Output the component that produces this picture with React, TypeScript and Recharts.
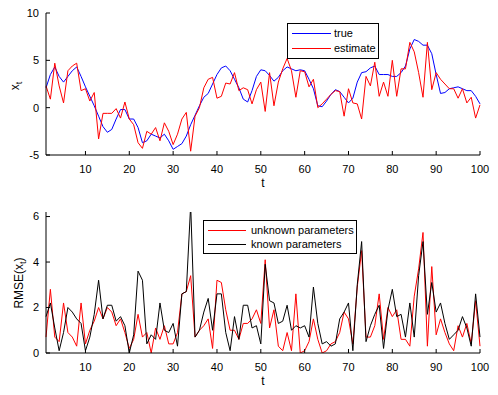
import { LineChart, Line, XAxis, YAxis, Legend } from "recharts";

// time index 1..100
const steps = Array.from({ length: 100 }, (_, i) => i + 1);

const trueState = [
  2.1, 3.5, 4.3, 3.3, 2.7, 3.3, 3.9, 4.3, 3.3, 2.2,
  1.2, 0.2, -0.9, -2.0, -2.6, -2.3, -1.2, -0.2, -0.2, -1.2,
  -1.2, -2.1, -3.7, -3.5, -2.8, -3.0, -3.2, -2.8, -3.5, -4.4,
  -4.1, -3.8, -3.0, -1.8, -0.8, 0.2, 1.1, 1.5, 2.5, 3.5,
  4.2, 4.4, 3.9, 3.0, 2.1, 0.9, 0.6, 1.8, 3.3, 4.0,
  3.9, 3.4, 2.8, 3.2, 3.9, 4.3, 4.1, 3.9, 4.0, 3.9,
  3.0, 2.0, 0.2, 0.1, 0.7, 1.4, 1.9, 1.7, 1.1, 0.5,
  1.0, 2.7, 3.7, 3.8, 4.2, 4.4, 3.5, 3.5, 3.5, 3.3,
  3.3, 3.7, 4.4, 6.2, 7.2, 7.0, 6.6, 6.6, 5.7, 3.5,
  1.5, 1.6, 2.0, 2.1, 2.2, 2.0, 1.8, 1.8, 1.2, 0.4,
];

const estimate = [
  2.3, 0.9, 4.7, 2.3, 0.5, 3.9, 4.4, 4.7, 1.8, 2.0,
  0.7, 1.6, -3.3, -0.6, -0.6, -0.6, -0.1, -1.1, 0.6, -1.2,
  -1.8, -3.7, -4.3, -2.5, -2.8, -2.1, -3.5, -1.6, -2.5, -3.9,
  -2.8, -1.2, -0.5, -4.6, -0.9, 0.0, 2.1, 3.0, 3.2, 1.0,
  1.2, 2.6, 2.5, 3.7, 1.8, 2.1, 1.9, 0.4, 1.9, 2.7,
  -0.4, 3.7, 0.2, 2.7, 4.1, 5.2, 3.9, 1.1, 3.9, 3.8,
  2.2, 3.0, 0.0, 0.4, 0.9, 1.4, 1.8, 1.7, -0.9, 2.0,
  0.5, 0.4, -1.2, 3.3, 2.3, 4.8, 1.2, 2.7, 1.2, 5.0,
  1.2, 4.1, 4.1, 6.9, 5.9, 3.7, 1.1, 6.9, 1.9, 3.7,
  3.0, 2.5, 2.0, 2.0, 1.0, 2.0, 0.5, 1.1, -1.1, 0.3,
];

const rmseUnknown = [
  0.7, 2.8, 0.7, 0.5, 2.2, 0.9, 0.7, 0.3, 2.2, 0.4,
  1.0, 1.4, 2.0, 1.5, 2.0, 1.8, 1.2, 1.5, 0.9, 0.2,
  0.6, 1.7, 0.7, 0.9, 0.0, 1.1, 0.6, 1.2, 0.4, 0.4,
  0.9, 2.6, 2.7, 3.4, 0.7, 1.0, 1.2, 1.5, 0.2, 3.2,
  3.1, 1.9, 1.0, 1.0, 0.6, 1.3, 1.3, 1.5, 1.9, 1.3,
  4.1, 1.1, 1.9, 0.3, 0.1, 0.9, 0.1, 2.6, 0.0, 0.1,
  0.5, 1.5, 0.6, 0.0, 0.1, 0.4, 0.5, 0.9, 1.8, 1.5,
  0.4, 2.9, 4.5, 0.7, 0.7, 1.2, 2.6, 0.6, 2.0, 1.6,
  1.9, 0.6, 0.6, 0.3, 2.5, 3.7, 5.3, 0.3, 3.8, 0.8,
  1.5, 0.9, 0.4, 0.1, 1.2, 0.7, 1.3, 0.4, 2.3, 0.3,
];

const rmseKnown = [
  1.6, 2.2, 1.1, 0.1, 0.9, 2.0, 1.8, 1.5, 1.3, 0.1,
  0.7, 1.7, 3.2, 1.5, 2.1, 2.1, 1.4, 1.6, 1.2, 0.0,
  0.8, 3.6, 3.2, 0.4, 0.8, 0.6, 2.2, 1.0, 0.9, 1.3,
  0.3, 2.6, 2.7, 6.5, 0.7, 1.0, 1.8, 2.4, 1.0, 2.6,
  2.6, 0.9, 0.1, 1.6, 0.6, 2.1, 2.1, 1.1, 1.2, 0.4,
  3.9, 2.3, 2.2, 1.3, 1.4, 2.1, 1.0, 1.2, 1.1, 1.2,
  0.7, 2.9, 1.3, 0.4, 0.5, 0.3, 0.4, 1.5, 1.8, 2.2,
  0.1, 3.0, 4.9, 0.5, 1.2, 1.7, 2.1, 0.2, 1.9, 2.8,
  1.6, 1.7, 0.7, 2.2, 0.7, 3.4, 4.9, 1.7, 3.1, 1.8,
  2.2, 1.3, 0.6, 0.8, 1.0, 1.6, 1.1, 0.3, 2.6, 0.7,
];

const tTicks = [10, 20, 30, 40, 50, 60, 70, 80, 90, 100];
const stateTicks = [-5, 0, 5, 10];
const rmseTicks = [0, 2, 4, 6];
const stateNames = ["true", "estimate"];
const stateColors = ["#0000ff", "#ff0000"];
const rmseNames = ["unknown parameters", "known parameters"];
const rmseColors = ["#ff0000", "#000000"];

const stateData = steps.map((t, i) => ({ t, trueX: trueState[i], est: estimate[i] }));
const rmseData = steps.map((t, i) => ({ t, unknown: rmseUnknown[i], known: rmseKnown[i] }));

const FONT = '"Liberation Sans", Arial, sans-serif';
const tickStyle = { fontSize: 11, fill: "#000" };
const blank = () => "";

// boxed legend in plot order (recharts would sort by name otherwise)
const boxLegend = (names: string[], colors: string[], w: number, rowH: number, lineW: number, gap: number, fs: number) =>
  () => (
    <div style={{ width: w, border: "1px solid #000", background: "#fff", padding: "2px 0 2px 4px", boxSizing: "border-box", fontFamily: FONT, fontSize: fs, color: "#000" }}>
      {names.map((n, i) => (
        <div key={n} style={{ position: "relative", height: rowH, lineHeight: `${rowH}px` }}>
          <div style={{ position: "absolute", left: 0, top: Math.floor(rowH / 2), width: lineW, height: 1, background: colors[i] }} />
          <span style={{ position: "absolute", left: lineW + gap, top: 0, whiteSpace: "nowrap" }}>{n}</span>
        </div>
      ))}
    </div>
  );

// matlab-ish box: inward ticks on all four sides
const frameAxes = (domainY: number[], ticksY: number[]) => [
  <XAxis key="xt" xAxisId="top" orientation="top" type="number" dataKey="t" domain={[1, 100]} ticks={tTicks}
    height={0} tickSize={-4} tickFormatter={blank} stroke="#000" />,
  <YAxis key="yr" yAxisId="r" orientation="right" type="number" domain={domainY} ticks={ticksY}
    width={0} tickSize={-4} tickFormatter={blank} stroke="#000" allowDataOverflow />,
];

export default function App() {
  return (
    <div style={{ position: "absolute", left: 0, top: 0, width: 498, height: 395, background: "#fff", fontFamily: FONT }}>
      <div style={{ position: "absolute", left: 0, top: 0 }}>
        <LineChart width={498} height={200} data={stateData} margin={{ top: 13, right: 18, bottom: 13, left: 0 }}>
          <XAxis dataKey="t" type="number" domain={[1, 100]} ticks={tTicks} height={32} tickSize={-4} tickMargin={14}
            tick={tickStyle} stroke="#000" label={{ value: "t", position: "insideBottom", offset: 0, fill: "#000", fontSize: 12 }} />
          <YAxis type="number" domain={[-5, 10]} ticks={stateTicks} width={46} tickSize={-4} tickMargin={11}
            tick={tickStyle} stroke="#000" />
          {frameAxes([-5, 10], stateTicks)}
          <Legend layout="vertical" align="center" verticalAlign="middle" content={boxLegend(stateNames, stateColors, 92, 15, 39, 3, 11)}
            wrapperStyle={{ left: 287, top: 23, width: 92, height: 34 }} />
          <Line type="linear" dataKey="trueX" name={stateNames[0]} stroke={stateColors[0]} strokeWidth={1} dot={false} isAnimationActive={false} />
          <Line type="linear" dataKey="est" name={stateNames[1]} stroke={stateColors[1]} strokeWidth={1} dot={false} isAnimationActive={false} />
        </LineChart>
      </div>
      <div style={{ position: "absolute", left: 0, top: 200 }}>
        <LineChart width={498} height={195} data={rmseData} margin={{ top: 12, right: 18, bottom: 10, left: 0 }}>
          <XAxis dataKey="t" type="number" domain={[1, 100]} ticks={tTicks} height={32} tickSize={-4} tickMargin={14}
            tick={tickStyle} stroke="#000" label={{ value: "t", position: "insideBottom", offset: 0, fill: "#000", fontSize: 12 }} />
          <YAxis type="number" domain={[0, 6.2]} ticks={rmseTicks} width={46} tickSize={-4} tickMargin={11}
            tick={tickStyle} stroke="#000" allowDataOverflow />
          {frameAxes([0, 6.2], rmseTicks)}
          <Legend layout="vertical" align="center" verticalAlign="middle" content={boxLegend(rmseNames, rmseColors, 154, 14, 38, 5, 11)}
            wrapperStyle={{ left: 203, top: 20, width: 154, height: 34 }} />
          <Line type="linear" dataKey="unknown" name={rmseNames[0]} stroke={rmseColors[0]} strokeWidth={1} dot={false} isAnimationActive={false} />
          <Line type="linear" dataKey="known" name={rmseNames[1]} stroke={rmseColors[1]} strokeWidth={1} dot={false} isAnimationActive={false} />
        </LineChart>
      </div>
      {/* y labels */}
      <div style={{ position: "absolute", left: 16, top: 86, transform: "translate(-50%, -50%) rotate(-90deg)", fontSize: 12, whiteSpace: "nowrap", color: "#000" }}>
        x<sub style={{ fontSize: 9 }}>t</sub>
      </div>
      <div style={{ position: "absolute", left: 20, top: 283, transform: "translate(-50%, -50%) rotate(-90deg)", fontSize: 12, whiteSpace: "nowrap", color: "#000" }}>
        RMSE(x<sub style={{ fontSize: 9 }}>t</sub>)
      </div>
    </div>
  );
}
